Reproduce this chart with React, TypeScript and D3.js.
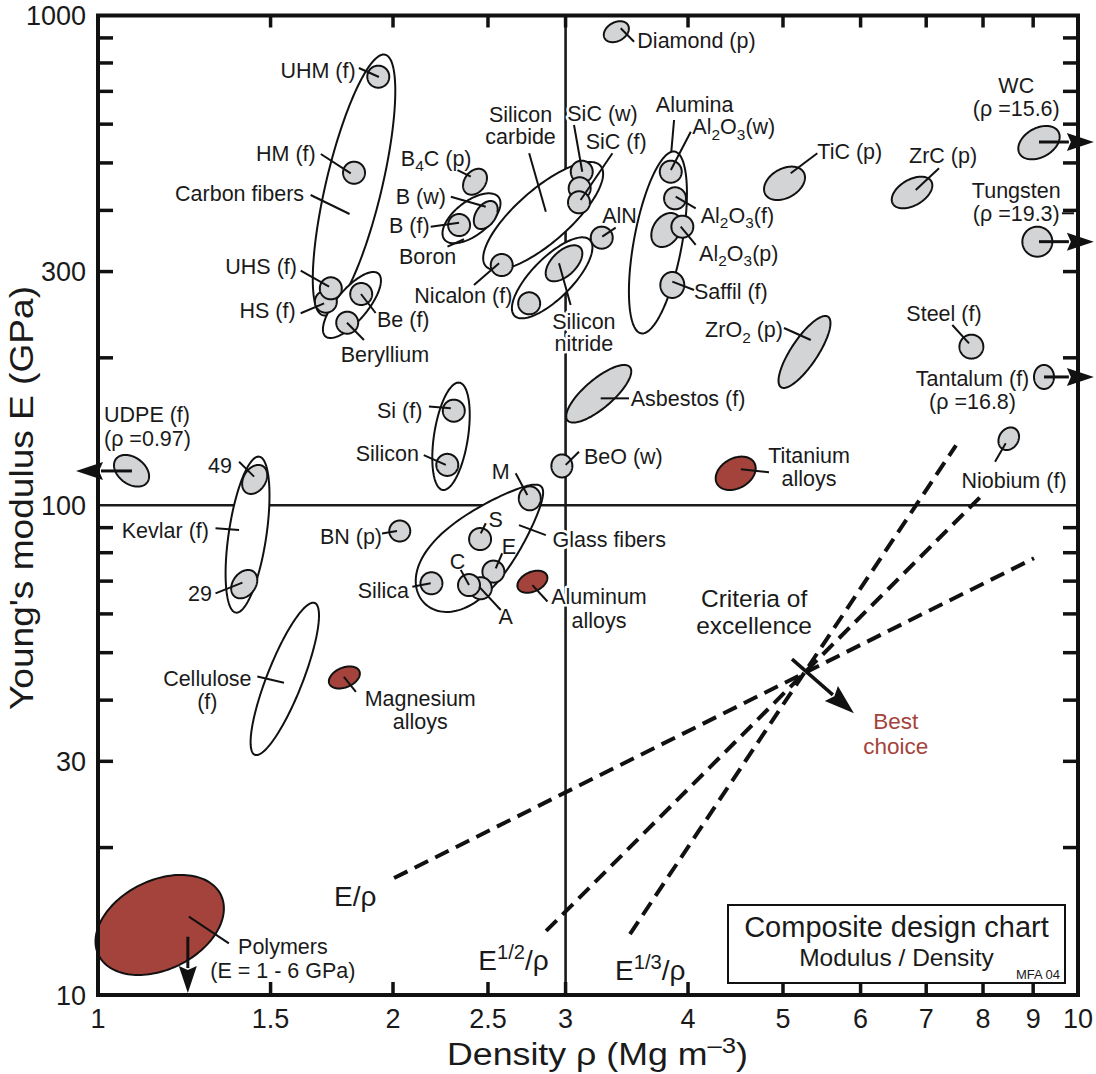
import React from "react";
import * as d3 from "d3";

const FONT = "'Liberation Sans', Arial, Helvetica, sans-serif";
const RED = "#a4433b";
const GRAY = "#d3d4d6";

// ---------- axes ----------
const xDomain = [1, 10];
const yDomain = [10, 1000];
const xTickValues = [1.5, 2, 2.5, 3, 4, 5, 6, 7, 8, 9];
const xTickLabels = [1, 1.5, 2, 2.5, 3, 4, 5, 6, 7, 8, 9, 10];
const yTickValues = [20, 30, 40, 50, 60, 70, 80, 90, 200, 300, 400, 500, 600, 700, 800, 900];
const yTickLabels = [10, 30, 100, 300, 1000];
const refRho = 3;
const refE = 100;

// ---------- data: material envelopes (rho in Mg/m3, E in GPa, half-spans in log decades, correlation) ----------
type Mat = { name: string; rho: number; E: number; dr?: number; de?: number; corr?: number; taper?: number };

const families: Mat[] = [
  { name: "Carbon fibers", rho: 1.825, E: 450.7, dr: 0.0421, de: 0.2665, corr: 0.72 },
  { name: "Beryllium", rho: 1.816, E: 256.4, dr: 0.0296, de: 0.0674, corr: 0.74 },
  { name: "Silicon carbide", rho: 2.846, E: 389.6, dr: 0.0612, de: 0.1103, corr: 0.78 },
  { name: "Boron", rho: 2.405, E: 385.4, dr: 0.0296, de: 0.051, corr: 0.6 },
  { name: "Silicon nitride", rho: 2.907, E: 291.3, dr: 0.0411, de: 0.0827, corr: 0.75 },
  { name: "Alumina", rho: 3.727, E: 344.0, dr: 0.0296, de: 0.1858, corr: 0.54 },
  { name: "Silicon", rho: 2.292, E: 138.3, dr: 0.0191, de: 0.1096, corr: 0.4 },
  { name: "Kevlar", rho: 1.421, E: 87.1, dr: 0.0224, de: 0.1593, corr: 0.5 },
  { name: "Glass fibers", rho: 2.47, E: 83.0, dr: 0.0646, de: 0.1292, corr: 0.7, taper: 0.4 },
  { name: "Cellulose", rho: 1.551, E: 44.2, dr: 0.0349, de: 0.1556, corr: 0.83 },
];

const alloys: Mat[] = [
  { name: "Polymers", rho: 1.156, E: 13.9, dr: 0.0655, de: 0.1021, corr: 0.33 },
  { name: "Magnesium alloys", rho: 1.784, E: 44.5, dr: 0.0158, de: 0.0225, corr: 0.35 },
  { name: "Aluminum alloys", rho: 2.775, E: 69.8, dr: 0.0153, de: 0.0225, corr: 0.35 },
  { name: "Titanium alloys", rho: 4.474, E: 116.2, dr: 0.0204, de: 0.0341, corr: 0.3 },
];

const singles: Mat[] = [
  { name: "UHM (f)", rho: 1.932, E: 750 },
  { name: "HM (f)", rho: 1.825, E: 477.5 },
  { name: "HS (f)", rho: 1.708, E: 260.4 },
  { name: "UHS (f)", rho: 1.728, E: 277.3 },
  { name: "Be (f)", rho: 1.856, E: 270.0 },
  { name: "Be", rho: 1.796, E: 235.9 },
  { name: "Diamond (p)", rho: 3.38, E: 926.7, dr: 0.0128, de: 0.0214, corr: 0.3 },
  { name: "SiC (w)", rho: 3.116, E: 479.8 },
  { name: "SiC (f) 1", rho: 3.101, E: 443.8 },
  { name: "SiC (f) 2", rho: 3.096, E: 415.5 },
  { name: "Nicalon (f)", rho: 2.582, E: 309.4 },
  { name: "B4C (p)", rho: 2.425, E: 457.7, dr: 0.0122, de: 0.0265, corr: 0.3 },
  { name: "B (w)", rho: 2.487, E: 391.4, dr: 0.0122, de: 0.0286, corr: 0.4 },
  { name: "B (f)", rho: 2.336, E: 373.4 },
  { name: "AlN", rho: 3.266, E: 351.9 },
  { name: "Si3N4", rho: 2.989, E: 311.9, dr: 0.0187, de: 0.0368, corr: 0.55 },
  { name: "Si3N4 (f)", rho: 2.754, E: 258.4 },
  { name: "Al2O3(w)", rho: 3.841, E: 479.8 },
  { name: "Al2O3(f)", rho: 3.88, E: 423.4 },
  { name: "Al2O3 bulk", rho: 3.801, E: 364.8, dr: 0.0153, de: 0.0347, corr: 0.3 },
  { name: "Al2O3(p)", rho: 3.947, E: 370.5 },
  { name: "Saffil (f)", rho: 3.855, E: 281.7, dr: 0.0122, de: 0.0265 },
  { name: "TiC (p)", rho: 5.018, E: 454.3, dr: 0.0209, de: 0.0341, corr: 0.35 },
  { name: "ZrC (p)", rho: 6.771, E: 435.1, dr: 0.0207, de: 0.0323, corr: 0.45 },
  { name: "WC", rho: 9.124, E: 550.0, dr: 0.0211, de: 0.0341, corr: 0.35 },
  { name: "Tungsten", rho: 9.089, E: 345.3, dr: 0.0153, de: 0.0306 },
  { name: "Steel (f)", rho: 7.784, E: 210.8, dr: 0.0122, de: 0.0245 },
  { name: "Tantalum (f)", rho: 9.232, E: 182.8, dr: 0.0102, de: 0.0245 },
  { name: "Niobium (f)", rho: 8.498, E: 136.7, dr: 0.0105, de: 0.0231, corr: 0.2 },
  { name: "ZrO2 (p)", rho: 5.259, E: 205.6, dr: 0.0265, de: 0.0735, corr: 0.8 },
  { name: "Asbestos (f)", rho: 3.243, E: 168.9, dr: 0.0332, de: 0.0588, corr: 0.78 },
  { name: "UDPE (f)", rho: 1.082, E: 117.6, dr: 0.0179, de: 0.0323, corr: -0.35 },
  { name: "Kevlar 49", rho: 1.445, E: 112.9, dr: 0.0128, de: 0.0296, corr: 0.3 },
  { name: "Kevlar 29", rho: 1.41, E: 69.0, dr: 0.0133, de: 0.029, corr: 0.3 },
  { name: "Si (f)", rho: 2.307, E: 156.0 },
  { name: "Silicon", rho: 2.272, E: 120.9 },
  { name: "M glass", rho: 2.758, E: 103.3, de: 0.0245 },
  { name: "S glass", rho: 2.454, E: 85.3 },
  { name: "E glass", rho: 2.532, E: 73.2 },
  { name: "A glass", rho: 2.458, E: 67.7 },
  { name: "C glass", rho: 2.391, E: 68.7 },
  { name: "Silica", rho: 2.189, E: 69.3 },
  { name: "BN (p)", rho: 2.032, E: 88.6, dr: 0.0107, de: 0.0214 },
  { name: "BeO (w)", rho: 2.974, E: 120.3, dr: 0.0107, de: 0.0235 },
];
const defaultDr = 0.0112;
const defaultDe = 0.0225;

// ---------- annotations (data coordinates) ----------
type Lab = [string, number, number[], "start" | "middle" | "end"];
const labels: Lab[] = [
  ["UHM (f)", 1.832, [774], "end"],
  ["HM (f)", 1.668, [523.9], "end"],
  ["Carbon fibers", 1.623, [434.0], "end"],
  ["UHS (f)", 1.596, [306.6], "end"],
  ["HS (f)", 1.591, [250.4], "end"],
  ["Be (f)", 1.926, [239.0], "start"],
  ["Beryllium", 1.769, [202.7], "start"],
  ["Diamond (p)", 3.551, [891.3], "start"],
  ["Silicon\ncarbide", 2.699, [626.7, 565.6], "middle"],
  ["SiC (w)", 3.012, [631.7], "start"],
  ["SiC (f)", 3.145, [552.5], "start"],
  ["Nicalon (f)", 2.647, [268.7], "end"],
  ["B_{4}C (p)", 2.037, [511.0], "start"],
  ["B (w)", 2.013, [426.6], "start"],
  ["B (f)", 1.981, [371.8], "start"],
  ["Boron", 2.028, [321.7], "start"],
  ["AlN", 3.27, [391.4], "start"],
  ["Silicon\nnitride", 3.132, [237.1, 214.1], "middle"],
  ["Alumina", 3.709, [656.9], "start"],
  ["Al_{2}O_{3}(w)", 4.041, [592.9], "start"],
  ["Al_{2}O_{3}(f)", 4.121, [391.4], "start"],
  ["Al_{2}O_{3}(p)", 4.105, [326.9], "start"],
  ["Saffil (f)", 4.057, [272.9], "start"],
  ["TiC (p)", 5.42, [527.1], "start"],
  ["ZrC (p)", 6.723, [519.0], "start"],
  ["WC\n(ρ =15.6)", 8.65, [721.3, 646.7], "middle"],
  ["Tungsten\n(ρ =19.3)", 8.65, [440.2, 394.6], "middle"],
  ["Steel (f)", 7.299, [246.6], "middle"],
  ["ZrO_{2} (p)", 5.0, [228.0], "end"],
  ["Tantalum (f)\n(ρ =16.8)", 7.805, [181.6, 162.7], "middle"],
  ["Niobium (f)", 8.604, [112.6], "middle"],
  ["Titanium\nalloys", 5.315, [126.6, 113.5], "middle"],
  ["Asbestos (f)", 3.496, [165.3], "start"],
  ["BeO (w)", 3.132, [125.6], "start"],
  ["Si (f)", 2.143, [156.5], "end"],
  ["Silicon", 2.126, [127.7], "end"],
  ["UDPE (f)\n(ρ =0.97)", 1.0142, [152.9, 137.0], "start"],
  ["49", 1.37, [120.3], "end"],
  ["Kevlar (f)", 1.298, [89.0], "end"],
  ["29", 1.307, [66.1], "end"],
  ["BN (p)", 1.949, [86.3], "end"],
  ["M", 2.576, [117.1], "middle"],
  ["A", 2.606, [59.2], "middle"],
  ["Silica", 2.077, [67.1], "end"],
  ["Glass fibers", 2.909, [85.2], "start"],
  ["Aluminum\nalloys", 3.245, [65.1, 58.3], "middle"],
  ["Cellulose\n(f)", 1.293, [44.3, 39.7], "middle"],
  ["Magnesium\nalloys", 2.132, [40.4, 36.1], "middle"],
  ["Polymers\n(E = 1 - 6 GPa)", 1.544, [12.55, 11.21], "middle"],
];
// labels that sit inside the glass-fiber envelope
const innerLabels: Lab[] = [
  ["S", 2.546, [93.7], "middle"],
  ["E", 2.626, [82.3], "middle"],
  ["C", 2.327, [76.7], "middle"],
];
const bigLabels: Lab[] = [["Criteria of\nexcellence", 4.672, [64.4, 56.9], "middle"]];
const bestLabels: Lab[] = [["Best\nchoice", 6.516, [36.26, 32.24], "middle"]];
const indexLabels: Lab[] = [
  ["E/ρ", 1.741, [15.9], "start"],
  ["E^{1/2}/ρ", 2.444, [11.79], "start"],
  ["E^{1/3}/ρ", 3.37, [11.24], "start"],
];

const leaders: [number, number, number, number][] = [
  [1.846, 781.3, 1.935, 749.0],
  [1.688, 521.4, 1.811, 476.2],
  [1.648, 430.0, 1.806, 393.3],
  [1.61, 301.3, 1.721, 279.4],
  [1.61, 246.6, 1.701, 258.4],
  [1.855, 270.0, 1.92, 246.9],
  [1.795, 235.9, 1.868, 217.5],
  [3.415, 941.7, 3.524, 884.2],
  [2.754, 523.2, 2.864, 397.6],
  [3.06, 597.6, 3.12, 479.8],
  [3.349, 523.2, 3.108, 420.0],
  [2.419, 281.7, 2.566, 311.9],
  [2.327, 483.6, 2.401, 468.6],
  [2.291, 426.6, 2.487, 407.0],
  [2.185, 370.5, 2.336, 377.5],
  [2.273, 337.3, 2.363, 349.2],
  [3.375, 368.8, 3.27, 353.5],
  [3.036, 256.4, 2.954, 311.9],
  [3.871, 611.8, 3.846, 527.1],
  [4.026, 579.1, 3.842, 483.6],
  [3.886, 426.6, 4.073, 404.0],
  [3.932, 370.5, 4.073, 340.0],
  [3.855, 286.1, 4.057, 275.1],
  [5.42, 523.2, 5.092, 476.2],
  [7.214, 487.5, 6.83, 440.2],
  [5.012, 230.1, 5.337, 217.5],
  [7.443, 233.4, 7.741, 214.1],
  [9.63, 394.6, 9.906, 394.6],
  [8.438, 133.8, 8.229, 122.7],
  [4.529, 118.4, 4.838, 116.8],
  [3.258, 165.3, 3.482, 165.3],
  [3.001, 120.9, 3.096, 128.6],
  [2.176, 159.0, 2.291, 157.8],
  [2.15, 126.6, 2.264, 120.9],
  [1.393, 122.7, 1.443, 114.4],
  [1.318, 89.7, 1.393, 89.0],
  [1.318, 66.1, 1.404, 69.5],
  [1.949, 87.6, 2.019, 88.6],
  [2.668, 116.2, 2.742, 104.9],
  [2.487, 91.9, 2.458, 87.6],
  [2.585, 79.8, 2.546, 74.3],
  [2.345, 73.8, 2.391, 68.7],
  [2.576, 61.1, 2.448, 68.2],
  [2.093, 68.2, 2.185, 69.3],
  [2.689, 91.1, 2.864, 86.9],
  [2.775, 68.7, 2.875, 63.6],
  [1.454, 44.7, 1.548, 43.4],
  [1.782, 44.6, 1.833, 41.6],
  [1.238, 14.45, 1.36, 12.75],
];

const arrows: [number, number, number, number][] = [
  [9.124, 551.7, 10.38, 551.7],
  [9.124, 345.3, 10.38, 345.3],
  [9.232, 182.8, 10.38, 182.8],
  [1.083, 117.5, 0.9496, 117.5],
  [1.235, 13.15, 1.235, 10.09],
];
const bestArrow: [number, number, number, number] = [5.107, 48.5, 5.907, 37.6];

// guide lines E ∝ rho^n through a pivot
const pivot = { rho: 5.253, E: 45.4 };
const guides = [
  { n: 1, lo: 2.005, hi: 9.018 },
  { n: 2, lo: 2.866, hi: 7.961 },
  { n: 3, lo: 3.49, hi: 7.508 },
];

function rich(text: string, fs: number) {
  const parts: { t: string; mode: string }[] = [];
  const re = /_\{([^}]*)\}|\^\{([^}]*)\}|([^_^]+)/g;
  let m: RegExpExecArray | null;
  while ((m = re.exec(text))) {
    if (m[1] !== undefined) parts.push({ t: m[1], mode: "sub" });
    else if (m[2] !== undefined) parts.push({ t: m[2], mode: "sup" });
    else parts.push({ t: m[3], mode: "n" });
  }
  let cur = 0;
  return parts.map((p, i) => {
    const target = p.mode === "sub" ? fs * 0.26 : p.mode === "sup" ? -fs * 0.4 : 0;
    const dy = target - cur;
    cur = target;
    return (
      <tspan key={i} dy={dy} fontSize={p.mode === "n" ? fs : fs * 0.72}>
        {p.t}
      </tspan>
    );
  });
}

export default function App() {
  const x = d3.scaleLog().domain(xDomain).range([98, 1078]);
  const y = d3.scaleLog().domain(yDomain).range([995, 15.5]);
  const X0 = x(xDomain[0]), X1 = x(xDomain[1]);
  const Y0 = y(yDomain[0]), Y1 = y(yDomain[1]);

  const ellipse = (m: Mat) => {
    const cx = x(m.rho), cy = y(m.E);
    const w = x(m.rho * Math.pow(10, m.dr ?? defaultDr)) - cx;
    const h = cy - y(m.E * Math.pow(10, m.de ?? defaultDe));
    const r = m.corr ?? 0;
    const k = m.taper ?? 0;
    const cxy = r * w * h;
    const half = (w * w + h * h) / 2;
    const disc = Math.sqrt(((w * w - h * h) / 2) ** 2 + cxy * cxy);
    const a = Math.sqrt(half + disc);
    const b = Math.sqrt(Math.max(half - disc, 0));
    const th = 0.5 * Math.atan2(2 * cxy, w * w - h * h);
    const c = Math.cos(th), s = Math.sin(th);
    const pts = d3.range(0, 144).map((i) => {
      const t = (i / 144) * 2 * Math.PI;
      const u = a * Math.cos(t);
      const v = b * Math.sin(t) * (1 - k * Math.cos(t));
      return [cx + u * c - v * s, cy - (u * s + v * c)] as [number, number];
    });
    return d3.line().curve(d3.curveLinearClosed)(pts) as string;
  };

  const arrowEl = (a: [number, number, number, number], key: string, sw: number, hl: number, hw: number) => {
    const x1 = x(a[0]), y1 = y(a[1]), x2 = x(a[2]), y2 = y(a[3]);
    const L = Math.hypot(x2 - x1, y2 - y1);
    const ux = (x2 - x1) / L, uy = (y2 - y1) / L;
    const bx = x2 - ux * hl, by = y2 - uy * hl;
    const head = [
      [x2, y2],
      [bx - uy * hw, by + ux * hw],
      [bx + ux * 4, by + uy * 4],
      [bx + uy * hw, by - ux * hw],
    ];
    return (
      <g key={key}>
        <line x1={x1} y1={y1} x2={bx + ux * 2} y2={by + uy * 2} stroke="#111" strokeWidth={sw} />
        <polygon points={head.map((p) => p.join(",")).join(" ")} fill="#111" />
      </g>
    );
  };

  const labelEl = (l: Lab, key: string, fs: number, color = "#1a1a1a", halo = true) => {
    const lines = l[0].split("\n");
    return (
      <text
        key={key}
        textAnchor={l[3]}
        fontSize={fs}
        fill={color}
        stroke={halo ? "#fff" : "none"}
        strokeWidth={halo ? 5 : 0}
        strokeLinejoin="round"
        paintOrder="stroke"
      >
        {lines.map((ln, j) => (
          <tspan key={j} x={x(l[1])} y={y(l[2][j] ?? l[2][0]) + fs * 0.35}>
            {rich(ln, fs)}
          </tspan>
        ))}
      </text>
    );
  };

  const legendLeft = 728;
  const legendTop = 905;
  const legendRight = X1 - 13;
  const legendBottom = Y0 - 12;

  return (
    <svg
      width={1096}
      height={1074}
      style={{ position: "absolute", left: 0, top: 0, background: "#fff" }}
      fontFamily={FONT}
    >
      <rect x={0} y={0} width={1096} height={1074} fill="#fff" />
      {/* reference lines */}
      <line x1={X0} x2={X1} y1={y(refE)} y2={y(refE)} stroke="#1a1a1a" strokeWidth={2.4} />
      <line x1={x(refRho)} x2={x(refRho)} y1={Y0} y2={Y1} stroke="#1a1a1a" strokeWidth={2.6} />

      {/* guide lines */}
      {guides.map((g, i) => (
        <line
          key={i}
          x1={x(g.lo)}
          y1={y(pivot.E * Math.pow(g.lo / pivot.rho, g.n))}
          x2={x(g.hi)}
          y2={y(pivot.E * Math.pow(g.hi / pivot.rho, g.n))}
          stroke="#111"
          strokeWidth={4}
          strokeDasharray="15 8"
        />
      ))}

      {/* labels */}
      {labels.map((l, i) => labelEl(l, "lb" + i, 21.5))}
      {bigLabels.map((l, i) => labelEl(l, "bg" + i, 24.5))}
      {bestLabels.map((l, i) => labelEl(l, "bs" + i, 22.5, RED))}
      {indexLabels.map((l, i) => labelEl(l, "ix" + i, 28))}

      {/* families */}
      {families.map((m, i) => (
        <path key={"f" + i} d={ellipse(m)} fill="#fff" stroke="#111" strokeWidth={2} />
      ))}
      {innerLabels.map((l, i) => labelEl(l, "in" + i, 21.5, "#1a1a1a", false))}
      {alloys.map((m, i) => (
        <path key={"a" + i} d={ellipse(m)} fill={RED} stroke="#111" strokeWidth={2} />
      ))}
      {singles.map((m, i) => (
        <path key={"s" + i} d={ellipse(m)} fill={GRAY} stroke="#111" strokeWidth={2} />
      ))}

      {/* leaders */}
      {leaders.map((l, i) => (
        <line key={"l" + i} x1={x(l[0])} y1={y(l[1])} x2={x(l[2])} y2={y(l[3])} stroke="#111" strokeWidth={2} />
      ))}

      {/* arrows */}
      {arrows.map((a, i) => arrowEl(a, "ar" + i, 3, 27, 9))}
      {arrowEl(bestArrow, "best", 3.5, 30, 10)}

      {/* legend box */}
      <rect
        x={legendLeft}
        y={legendTop}
        width={legendRight - legendLeft}
        height={legendBottom - legendTop}
        fill="#fff"
        stroke="#111"
        strokeWidth={2}
      />
      <text x={(legendLeft + legendRight) / 2} y={937} textAnchor="middle" fontSize={29} fill="#1a1a1a">
        Composite design chart
      </text>
      <text x={(legendLeft + legendRight) / 2} y={966} textAnchor="middle" fontSize={24.5} fill="#1a1a1a">
        Modulus / Density
      </text>
      <text x={legendRight - 5} y={979} textAnchor="end" fontSize={13} fill="#1a1a1a">
        MFA 04
      </text>

      {/* frame & ticks */}
      {xTickValues.map((v, i) => (
        <g key={"xt" + i}>
          <line x1={x(v)} x2={x(v)} y1={Y0} y2={Y0 - 13} stroke="#111" strokeWidth={3.5} />
          <line x1={x(v)} x2={x(v)} y1={Y1} y2={Y1 + 12} stroke="#111" strokeWidth={3.5} />
        </g>
      ))}
      {yTickValues.map((v, i) => (
        <g key={"yt" + i}>
          <line x1={X0} x2={X0 + 15} y1={y(v)} y2={y(v)} stroke="#111" strokeWidth={3.5} />
          <line x1={X1} x2={X1 - 15} y1={y(v)} y2={y(v)} stroke="#111" strokeWidth={3.5} />
        </g>
      ))}
      <rect x={X0} y={Y1} width={X1 - X0} height={Y0 - Y1} fill="none" stroke="#111" strokeWidth={4} />

      {xTickLabels.map((v, i) => (
        <text key={"xl" + i} x={x(v)} y={1028} textAnchor="middle" fontSize={27} fill="#1a1a1a">
          {String(v)}
        </text>
      ))}
      {yTickLabels.map((v, i) => (
        <text key={"yl" + i} x={86} y={y(v) + 9.5} textAnchor="end" fontSize={27} fill="#1a1a1a">
          {String(v)}
        </text>
      ))}

      {/* axis titles */}
      <text
        x={447}
        y={1065}
        fontSize={31}
        fill="#1a1a1a"
        textLength={301}
        lengthAdjust="spacingAndGlyphs"
      >
        {rich("Density ρ (Mg m^{–3})", 31)}
      </text>
      <text
        transform={`translate(33, 710) rotate(-90)`}
        fontSize={33}
        fill="#1a1a1a"
        textLength={424}
        lengthAdjust="spacingAndGlyphs"
      >
        Young's modulus E (GPa)
      </text>
    </svg>
  );
}
